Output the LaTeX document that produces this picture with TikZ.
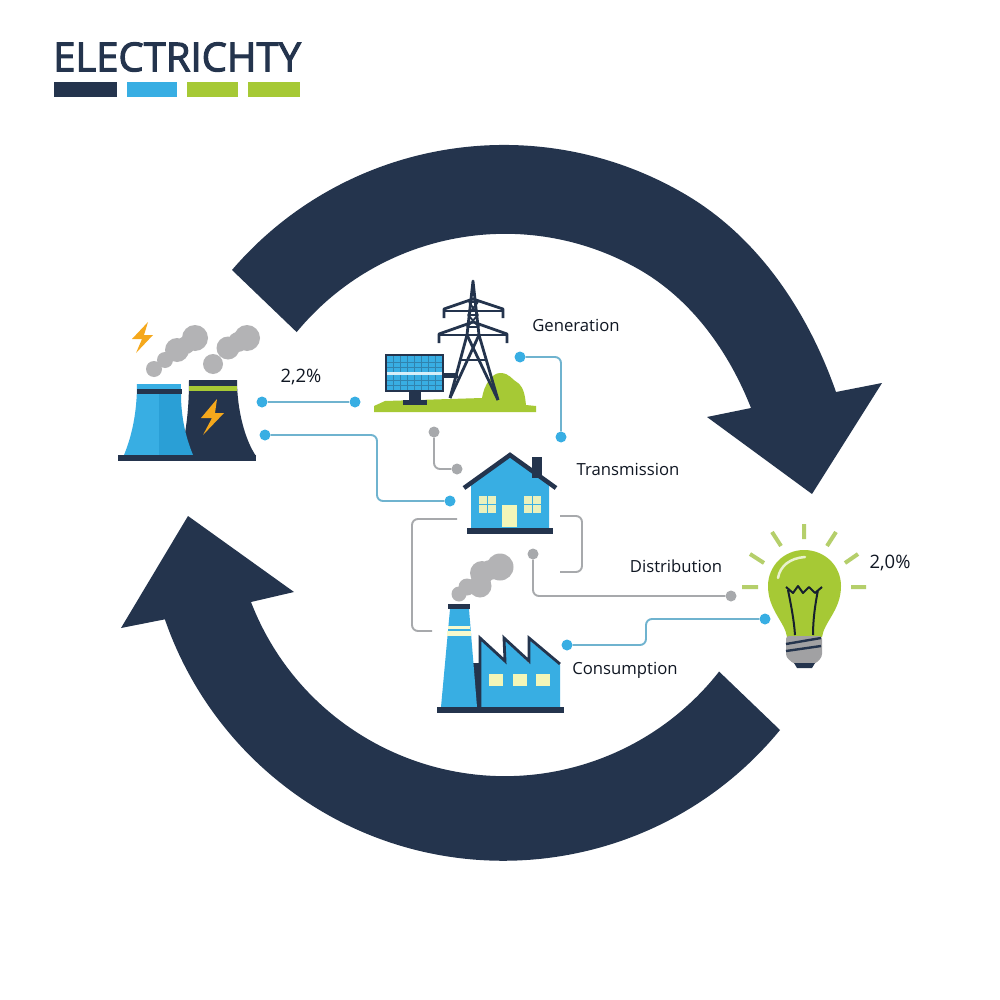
\documentclass[tikz,border=0pt]{standalone}
\usepackage{xcolor}
\usepackage{fontspec}
\setmainfont{Open Sans}
\newfontfamily\titlefont[FakeBold=2.5]{Open Sans}
\definecolor{navy}{HTML}{24344D}
\definecolor{skyblue}{HTML}{38AEE3}
\definecolor{deepblue}{HTML}{2A9FD6}
\definecolor{leaf}{HTML}{A6C935}
\definecolor{paleleaf}{HTML}{B5CF6B}
\definecolor{bolt}{HTML}{F5A81C}
\definecolor{smoke}{HTML}{B3B3B5}
\definecolor{cream}{HTML}{F3F6B8}
\definecolor{wireblue}{HTML}{6FB3CF}
\definecolor{wiregray}{HTML}{A7A9AC}

\begin{document}
\begin{tikzpicture}[
    x=1pt, y=-1pt,
    lbl/.style={font=\fontsize{16.7}{20}\selectfont, text=navy!45!black, inner sep=0pt},
    ratelbl/.style={font=\fontsize{18.5}{20}\selectfont, text=navy!45!black, inner sep=0pt},
    bluedot/.style={circle, fill=skyblue, inner sep=0pt, minimum size=11pt},
    graydot/.style={circle, fill=wiregray, inner sep=0pt, minimum size=11pt},
    bluewire/.style={draw=wireblue, line width=1.9pt, rounded corners=6pt},
    graywire/.style={draw=wiregray, line width=1.9pt, rounded corners=6pt},
    frame/.style={draw=navy, line width=2.8pt, line join=round},
    ray/.style={draw=paleleaf, line width=4pt},
    puff/.style={fill=smoke}
]
    \useasboundingbox (0,0) rectangle (1000,1000);
    \fill[white] (0,0) rectangle (1000,1000);

    % Title
    \node[anchor=west, inner sep=0pt, font=\fontsize{40}{44}\selectfont\titlefont, text=navy] (title) at (53,57) {ELECTRICHTY};
    \fill[navy] (54,82) rectangle (117,97);
    \fill[skyblue] (127,82) rectangle (177,97);
    \fill[leaf] (187,82) rectangle (238,97);
    \fill[leaf] (248,82) rectangle (300,97);

    % Cycle arrows
    \fill[navy] (232,270) arc[start angle=220.6, end angle=300, radius=358] .. controls (758,236) and (808,312) .. (836,392) -- (882,383) -- (812,494) -- (707,417) -- (751,408) .. controls (729,352) and (692,300) .. (640,270) arc[start angle=300, end angle=219.5, radius=270] -- cycle;
    \fill[navy] (780,730) arc[start angle=39.4, end angle=161, radius=358] -- (121,628) -- (188,516) -- (294,592) -- (251,602) arc[start angle=158.9, end angle=38, radius=272] -- cycle;

    % Power plant
    \fill[navy] (189,380) -- (237,380) .. controls (237,410) and (245,440) .. (256,456) -- (180,456) .. controls (187,430) and (189,405) .. cycle;
    \fill[leaf] (189,386) rectangle (237,391);
    \fill[skyblue] (137,384) .. controls (137,415) and (131,438) .. (124,455) -- (159,455) -- (159,384) -- cycle;
    \fill[deepblue] (159,394) -- (181,394) .. controls (181,418) and (186,438) .. (193,455) -- (159,455) -- cycle;
    \fill[skyblue] (159,384) rectangle (181,390);
    \fill[navy] (136.5,389) rectangle (181.5,394);
    \fill[navy] (118,455) rectangle (256,461);
    \fill[bolt] (217,399) -- (201,418) -- (212,418) -- (203,435) -- (224,413) -- (215,413) -- cycle;
    \fill[bolt] (148,322) -- (132,339) -- (142,339) -- (136,353) -- (153,335) -- (144,335) -- cycle;
    \foreach \cx/\cy/\cr in {154/369/8, 165/360/8, 177/350/12, 195/338/13, 186/345/9, 213/364/10, 228/348/11.5, 247/338/13, 238/342/10}
        \fill[puff] (\cx,\cy) circle[radius=\cr];

    % Generation: ground, solar panel, pylon
    \fill[leaf] (374,412) -- (374,406) -- (385,401) -- (482,398) .. controls (484,385) and (492,373) .. (500,373) .. controls (510,373) and (512,380) .. (518,383) .. controls (524,388) and (525,396) .. (526,405) -- (536,406) -- (536,412) -- cycle;
    \fill[navy] (409,391) rectangle (421,400);
    \fill[navy] (403,400) rectangle (427,405);
    \fill[navy] (443,373) rectangle (458,378);
    \fill[skyblue, draw=navy, line width=1.5pt] (386,355) rectangle (443,391);
    \foreach \gx in {393,400,407,414,421,428,435}
        \draw[skyblue!65!navy, line width=0.7pt] (\gx,356) -- (\gx,390);
    \foreach \gy in {362,367,380,385}
        \draw[skyblue!65!navy, line width=0.7pt] (387,\gy) -- (442,\gy);
    \fill[white!80!skyblue] (387,372) rectangle (442,375);
    \draw[frame] (444,318) -- (444,309) -- (473,299) -- (503,309) -- (503,318);
    \draw[frame] (444,311) -- (503,311);
    \draw[frame] (439,343) -- (439,334) -- (473,322) -- (507,334) -- (507,343);
    \draw[frame] (439,335) -- (507,335);
    \draw[frame] (450,398) -- (467,335) -- (473,281) -- (479,335) -- (498,400);
    \draw[frame] (467,335) -- (498,400);
    \draw[frame] (479,335) -- (450,398);
    \draw[frame, line width=1.8pt] (469,302) -- (478,302) (468,315) -- (478,315) (467,327) -- (479,327) (469,302) -- (478,315) (478,302) -- (468,315) (468,315) -- (479,327) (478,315) -- (467,327);
    \draw[frame, line width=2pt] (460,360) -- (487,360);

    % House
    \fill[skyblue] (471,528) -- (471,485) -- (510,456) -- (549,485) -- (549,528) -- cycle;
    \fill[navy] (532,457) rectangle (542,478);
    \draw[navy, line width=4.5pt] (464,488) -- (510,455) -- (556,488);
    \fill[navy] (467,528) rectangle (553,534);
    \fill[cream!70!leaf!60!white] (479,496) rectangle (496,513);
    \fill[cream!70!leaf!60!white] (524,496) rectangle (541,513);
    \draw[skyblue, line width=1pt] (487.5,496) -- (487.5,513) (479,504.5) -- (496,504.5) (532.5,496) -- (532.5,513) (524,504.5) -- (541,504.5);
    \fill[cream] (502,505) rectangle (517,527);

    % Factory
    \foreach \cx/\cy/\cr in {459/594/7.5, 467/587/8.5, 480/586/11.5, 482/573/12, 490/570/10, 500/567/13.5}
        \fill[puff] (\cx,\cy) circle[radius=\cr];
    \fill[navy] (473,663) rectangle (483,707);
    \fill[skyblue] (450,609) -- (469,609) -- (477,707) -- (441,707) -- cycle;
    \fill[navy] (448,604) rectangle (470,609);
    \fill[cream!70!white] (448,626) rectangle (470,629);
    \fill[cream!70!white] (447,631) rectangle (471,636);
    \fill[skyblue] (481,639) -- (506,663) -- (505,640) -- (529,663) -- (529,640) -- (560,665) -- (560,707) -- (481,707) -- cycle;
    \draw[navy, line width=2.8pt, line join=miter] (480,707) -- (480,638) -- (505,661) -- (504,638) -- (529,661) -- (529,638) -- (560,664);
    \fill[navy] (437,707) rectangle (564,713);
    \foreach \wx in {489,513,536}
        \fill[cream] (\wx,674) rectangle ++(13.5,12);

    % Bulb
    \fill[leaf] (787,637) .. controls (785,622) and (768,610) .. (768,586) .. controls (768,566) and (784,550) .. (804,550) .. controls (825,550) and (841,566) .. (841,586) .. controls (841,610) and (824,622) .. (822,637) -- cycle;
    \fill[smoke!90!black, rounded corners=3pt] (786,636) -- (822,636) -- (822,657) -- (815,664) -- (794,664) -- (786,657) -- cycle;
    \fill[navy] (794,663) -- (815,663) -- (812,668) -- (797,668) -- cycle;
    \draw[navy, line width=2.4pt] (786,644) -- (821,638) (786,651) -- (821,646);
    \draw[navy!60!black, line width=2pt, line join=round] (795,635) .. controls (794,620) and (791,605) .. (788,590) (786,587) -- (793,593) -- (798,586) -- (803,593) -- (809,587) -- (815,593) -- (822,587) (813,635) .. controls (813,620) and (815,605) .. (818,590);
    \draw[white!75!leaf, line width=2.5pt, line cap=round] (778,578) .. controls (780,566) and (790,558) .. (805,557);
    \draw[ray] (851,587) -- (866,587) (845,563) -- (858,554) (827,546) -- (836,532) (804,539) -- (804,524) (781,546) -- (772,532) (764,563) -- (750,554) (758,587) -- (742,587);

    % Labels
    \node[ratelbl] (rateplant) at (301,377) {2,2\%};
    \node[ratelbl] (ratebulb) at (890,563) {2,0\%};
    \node[lbl] (generation) at (576,325) {Generation};
    \node[lbl] (transmission) at (628,469) {Transmission};
    \node[lbl] (distribution) at (676,566) {Distribution};
    \node[lbl] (consumption) at (625,670) {Consumption};

    % Connection points
    \node[bluedot] (plantA) at (262,402) {};
    \node[bluedot] (plantB) at (355,402) {};
    \node[bluedot] (plantC) at (265,435) {};
    \node[bluedot] (houseW) at (450,501) {};
    \node[bluedot] (genE) at (520,357) {};
    \node[bluedot] (transN) at (561,437) {};
    \node[bluedot] (factE) at (567,645) {};
    \node[bluedot] (bulbW) at (765,619) {};
    \node[graydot] (pylonS) at (434,432) {};
    \node[graydot] (roofW) at (457,469) {};
    \node[graydot] (houseS) at (533,554) {};
    \node[graydot] (distE) at (731,596) {};

    % Bends and free ends
    \coordinate (bendA) at (377,470);
    \coordinate (bendB) at (646,632);
    \coordinate (leftT) at (457,519);
    \coordinate (leftB) at (432,631);
    \coordinate (leftM) at (412,575);
    \coordinate (rightT) at (560,516);
    \coordinate (rightB) at (560,572);
    \coordinate (rightM) at (582,545);

    % Connections
    \draw[bluewire] (plantA) -- (plantB);
    \draw[bluewire] (plantC) -| (bendA) |- (houseW);
    \draw[bluewire] (genE) -| (transN);
    \draw[bluewire] (factE) -| (bendB) |- (bulbW);
    \draw[graywire] (pylonS) |- (roofW);
    \draw[graywire] (houseS) |- (distE);
    \draw[graywire] (leftT) -| (leftM) |- (leftB);
    \draw[graywire] (rightT) -| (rightM) |- (rightB);
\end{tikzpicture}
\end{document}
